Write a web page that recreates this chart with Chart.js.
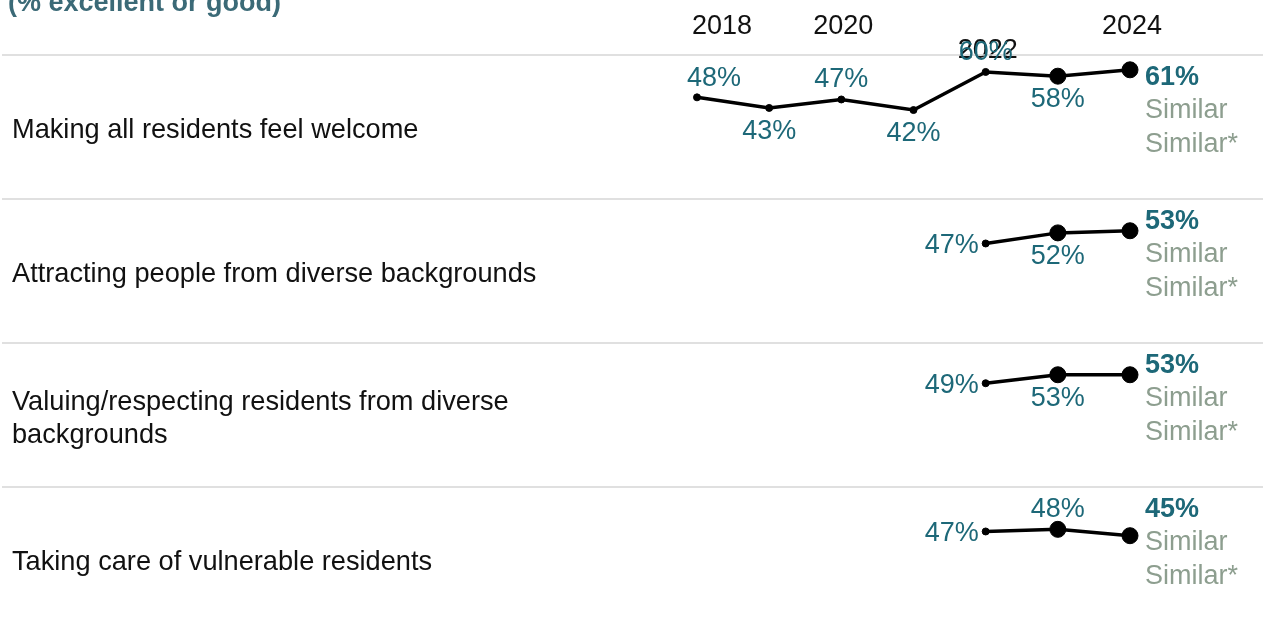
<!DOCTYPE html>
<html>
<head>
<meta charset="utf-8">
<script src="https://cdn.jsdelivr.net/npm/chart.js@4"></script>
<style>
  html, body { margin: 0; padding: 0; background: #fff; overflow: hidden; }
  #trend { display: block; }
</style>
</head>
<body>
<canvas id="trend" width="1266" height="632"></canvas>
<script>
// Years along the top and the ones that get a label
const years = ['2018', '2019', '2020', '2021', '2022', '2023', '2024'];
const yearTicks = ['2018', '2020', '2022', '2024'];

// Ratings per item (% excellent or good), null where the item was not asked
const welcome    = [48, 43, 47, 42, 60, 58, 61];
const attracting = [null, null, null, null, 47, 52, 53];
const valuing    = [null, null, null, null, 49, 53, 53];
const vulnerable = [null, null, null, null, 47, 48, 45];

const rowLabels = [
  'Making all residents feel welcome',
  'Attracting people from diverse backgrounds',
  'Valuing/respecting residents from diverse backgrounds',
  'Taking care of vulnerable residents'
];
const benchmarkNational = ['Similar', 'Similar', 'Similar', 'Similar'];
const benchmarkRegional = ['Similar*', 'Similar*', 'Similar*', 'Similar*'];

const series = [welcome, attracting, valuing, vulnerable];
const title = '(% excellent or good)';

const ROW_MAX = 68;   // value range shown inside one row band
const FONT = "'Liberation Sans', Arial, sans-serif";
const TEAL = '#1d6878';
const SAGE = '#8d9e8f';
const DY = 2.5;       // nudge for 'middle' baseline so glyphs sit centred

// each row gets its own y axis, shifted so the four bands stack top to bottom
const scales = {
  x: { type: 'category', display: false, offset: false }
};
series.forEach((_, r) => {
  scales['y' + r] = {
    type: 'linear',
    display: false,
    min: (r - 3) * ROW_MAX,
    max: (r + 1) * ROW_MAX
  };
});

function wrapLines(ctx, text, maxW) {
  const words = text.split(' ');
  const lines = [];
  let cur = '';
  words.forEach(w => {
    const test = cur ? cur + ' ' + w : w;
    if (ctx.measureText(test).width > maxW && cur) {
      lines.push(cur);
      cur = w;
    } else {
      cur = test;
    }
  });
  if (cur) lines.push(cur);
  return lines;
}

const rowText = {
  id: 'rowText',
  beforeDatasetsDraw(chart) {
    const ctx = chart.ctx;
    const xs = chart.scales.x;
    ctx.save();

    // cut-off heading in the top corner
    ctx.fillStyle = '#3b6a77';
    ctx.font = 'bold 27px ' + FONT;
    ctx.textBaseline = 'alphabetic';
    ctx.textAlign = 'left';
    ctx.fillText(title, 8, 11);

    // year labels
    ctx.fillStyle = '#111';
    ctx.font = '27px ' + FONT;
    ctx.textBaseline = 'middle';
    yearTicks.forEach(yr => {
      const i = years.indexOf(yr);
      const x = xs.getPixelForValue(i);
      if (i === 0) {
        ctx.textAlign = 'left';
        ctx.fillText(yr, x - 5, 24 + DY);
      } else {
        ctx.textAlign = 'center';
        ctx.fillText(yr, x + 2, (yr === '2022' ? 48 : 24) + DY);
      }
    });

    // row separators and row names
    series.forEach((_, r) => {
      const top = chart.scales['y' + r].getPixelForValue(ROW_MAX);
      const bottom = chart.scales['y' + r].getPixelForValue(0);
      ctx.strokeStyle = '#d6d6d6';
      ctx.lineWidth = 1.5;
      ctx.beginPath();
      ctx.moveTo(2, top);
      ctx.lineTo(chart.width - 3, top);
      ctx.stroke();

      ctx.fillStyle = '#111';
      ctx.font = '27.2px ' + FONT;
      ctx.textAlign = 'left';
      ctx.textBaseline = 'middle';
      const lines = wrapLines(ctx, rowLabels[r], 580);
      const mid = top + (bottom - top) / 2 + 1.5 + DY;
      const lh = 33;
      lines.forEach((ln, k) => {
        ctx.fillText(ln, 12, mid + (k - (lines.length - 1) / 2) * lh);
      });
    });
    ctx.restore();
  },
  afterDatasetsDraw(chart) {
    const ctx = chart.ctx;
    const area = chart.chartArea;
    ctx.save();
    ctx.textBaseline = 'middle';
    series.forEach((vals, r) => {
      const meta = chart.getDatasetMeta(r);
      const last = vals.length - 1;
      const first = vals.findIndex(v => v !== null);

      ctx.font = '27px ' + FONT;
      ctx.fillStyle = TEAL;
      for (let i = first; i < last; i++) {
        const pt = meta.data[i];
        const txt = vals[i] + '%';
        if (i === first) {
          if (i === 0) {
            ctx.textAlign = 'left';
            ctx.fillText(txt, pt.x - 10, pt.y - 21 + DY);
          } else {
            ctx.textAlign = 'right';
            ctx.fillText(txt, pt.x - 7, pt.y + DY);
          }
          continue;
        }
        const isPeak = vals[i] > vals[i - 1] && vals[i] > vals[i + 1];
        ctx.textAlign = 'center';
        ctx.fillText(txt, pt.x, (isPeak ? pt.y - 22 : pt.y + 21) + DY);
      }

      // latest value and comparisons at the right
      const top = chart.scales['y' + r].getPixelForValue(ROW_MAX);
      const rx = area.right + 15;
      ctx.textAlign = 'left';
      ctx.font = 'bold 27px ' + FONT;
      ctx.fillStyle = TEAL;
      ctx.fillText(vals[last] + '%', rx, top + 20 + DY);
      ctx.font = '27px ' + FONT;
      ctx.fillStyle = SAGE;
      ctx.fillText(benchmarkNational[r], rx, top + 53 + DY);
      ctx.fillText(benchmarkRegional[r], rx, top + 87 + DY);
    });
    ctx.restore();
  }
};

const datasets = series.map((vals, r) => ({
  label: rowLabels[r],
  data: vals,
  yAxisID: 'y' + r,
  borderColor: '#000',
  borderWidth: 3.5,
  pointBackgroundColor: '#000',
  pointBorderColor: '#000',
  pointBorderWidth: 1,
  pointRadius: ctx => (ctx.dataIndex >= 5 ? 8 : 3.5),
  tension: 0,
  clip: false
}));

new Chart(document.getElementById('trend'), {
  type: 'line',
  data: { labels: years, datasets: datasets },
  options: {
    responsive: false,
    animation: false,
    events: [],
    layout: {
      autoPadding: false,
      padding: { left: 697, right: 136, top: 55, bottom: 1 }
    },
    scales: scales,
    plugins: {
      legend: { display: false },
      tooltip: { enabled: false },
      title: { display: false }
    }
  },
  plugins: [rowText]
});
</script>
</body>
</html>
